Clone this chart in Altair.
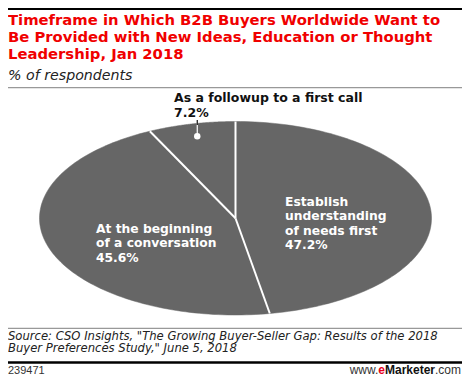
import numpy as np
import pandas as pd
import altair as alt

# ---------------- data ----------------
categories = [
    "Establish understanding of needs first",
    "At the beginning of a conversation",
    "As a followup to a first call",
]
values = [47.2, 45.6, 7.2]
label_lines = [
    ["Establish", "understanding", "of needs first"],
    ["At the beginning", "of a conversation"],
    ["As a followup to a first call"],
]
title_lines = [
    "Timeframe in Which B2B Buyers Worldwide Want to",
    "Be Provided with New Ideas, Education or Thought",
    "Leadership, Jan 2018",
]
subtitle = "% of respondents"
source_lines = [
    'Source: CSO Insights, "The Growing Buyer-Seller Gap: Results of the 2018',
    'Buyer Preferences Study," June 5, 2018',
]
chart_id = "239471"
site_parts = ["www.", "e", "Marketer", ".com"]

# ---------------- geometry derived from the values ----------------
total = float(sum(values))
bounds = np.concatenate([[0.0], np.cumsum(values)]) / total * 2 * np.pi
rows = []
for i, cat in enumerate(categories):
    ang = np.linspace(bounds[i], bounds[i + 1], 120)
    rows.append({"slice": cat, "k": 0, "px": 0.0, "py": 0.0})
    for j, t in enumerate(ang):
        rows.append({"slice": cat, "k": j + 1, "px": float(np.sin(t)), "py": float(np.cos(t))})
    rows.append({"slice": cat, "k": len(ang) + 1, "px": 0.0, "py": 0.0})
poly = pd.DataFrame(rows)

radii = pd.DataFrame({
    "x0": [0.0] * len(categories),
    "y0": [0.0] * len(categories),
    "x1": [float(np.sin(b)) for b in bounds[:-1]],
    "y1": [float(np.cos(b)) for b in bounds[:-1]],
})

mid_small = (bounds[2] + bounds[3]) / 2
lead = pd.DataFrame({"x": [0.87 * float(np.sin(mid_small))], "y": [0.87 * float(np.cos(mid_small))]})

W, H = 454, 369
xs = alt.Scale(domain=[-1, 1], range=[31.5, 423.5], nice=False, zero=False)
ys = alt.Scale(domain=[-1, 1], range=[307, 113.5], nice=False, zero=False)

one = pd.DataFrame({"a": [0]})

pie = alt.Chart(poly).mark_line(
    fill="#666666", stroke="#666666", strokeWidth=0.5, interpolate="linear"
).encode(
    x=alt.X("px:Q", scale=xs, axis=None),
    y=alt.Y("py:Q", scale=ys, axis=None),
    order=alt.Order("k:Q"),
    detail="slice:N",
)

seps = alt.Chart(radii).mark_rule(stroke="white", strokeWidth=2).encode(
    x=alt.X("x0:Q", scale=xs, axis=None),
    y=alt.Y("y0:Q", scale=ys, axis=None),
    x2="x1:Q",
    y2="y1:Q",
)

lead_line = alt.Chart(lead).mark_rule(stroke="white", strokeWidth=1.2).encode(
    x=alt.X("x:Q", scale=xs, axis=None),
    y=alt.Y("y:Q", scale=ys, axis=None),
    y2=alt.value(112),
)
lead_line_top = alt.Chart(lead).mark_rule(stroke="#111111", strokeWidth=1.2).encode(
    x=alt.X("x:Q", scale=xs, axis=None),
    y=alt.value(112),
    y2=alt.value(117),
)
lead_dot = alt.Chart(lead).mark_point(filled=True, color="white", opacity=1, size=42).encode(
    x=alt.X("x:Q", scale=xs, axis=None),
    y=alt.Y("y:Q", scale=ys, axis=None),
)


def label_text(i):
    return "\n".join(label_lines[i] + [f"{values[i]:.1f}%"])


def text_layer(txt, x, y, size, color, weight="normal", style="normal", font="DejaVu Sans",
               line_height=None, align="left"):
    kw = dict(text=txt, align=align, baseline="alphabetic", fontSize=size, color=color,
              fontWeight=weight, fontStyle=style, font=font, lineBreak="\n")
    if line_height is not None:
        kw["lineHeight"] = line_height
    return alt.Chart(one).mark_text(**kw).encode(x=alt.value(x), y=alt.value(y))


lab_font = 12.3
lab1 = text_layer(label_text(0), 277, 198, lab_font, "white", weight="bold", line_height=14.4)
lab2 = text_layer(label_text(1), 88, 225, lab_font, "white", weight="bold", line_height=14.4)
lab3 = text_layer(label_text(2), 166, 93.7, 12.5, "#111111", weight="bold", line_height=15)

title = text_layer("\n".join(title_lines), 0, 17, 14.8, "#f00000", weight="bold", line_height=17.2)
sub = text_layer(subtitle, 0, 72, 14.2, "#222222", style="italic", font="DejaVu Sans")
source = text_layer("\n".join(source_lines), 0, 331.8, 11.6, "#222222", style="italic",
                    font="DejaVu Sans", line_height=12.6)
ident = text_layer(chart_id, 0, 366, 11, "#333333", font="Liberation Sans")

url_right = 453
url4 = text_layer(site_parts[3], url_right, 366, 12, "#333333", font="Liberation Sans", align="right")
url3 = text_layer(site_parts[2], url_right - 26, 366, 12, "#111111", weight="bold",
                  font="Liberation Sans", align="right")
url2 = text_layer(site_parts[1], url_right - 76, 366, 12, "#e8001c", weight="bold",
                  font="Liberation Sans", align="right")
url1 = text_layer(site_parts[0], url_right - 82.7, 366, 12, "#333333", font="Liberation Sans",
                  align="right")


def hrule(y, color, width):
    return alt.Chart(one).mark_rule(stroke=color, strokeWidth=width).encode(
        x=alt.value(0), x2=alt.value(W), y=alt.value(y)
    )


rules = [hrule(1, "#000000", 2), hrule(79.7, "#999999", 1.2), hrule(320.3, "#999999", 1.2),
         hrule(354.5, "#000000", 2.5)]

chart = alt.layer(
    pie, seps, lead_line, lead_line_top, lead_dot, lab1, lab2, lab3,
    title, sub, source, ident, url1, url2, url3, url4, *rules
).properties(
    width=W, height=H, autosize=alt.AutoSizeParams(type="none"), padding=0
).configure_view(strokeWidth=0)

chart.save("out.html", embed_options={"renderer": "svg", "actions": False})
